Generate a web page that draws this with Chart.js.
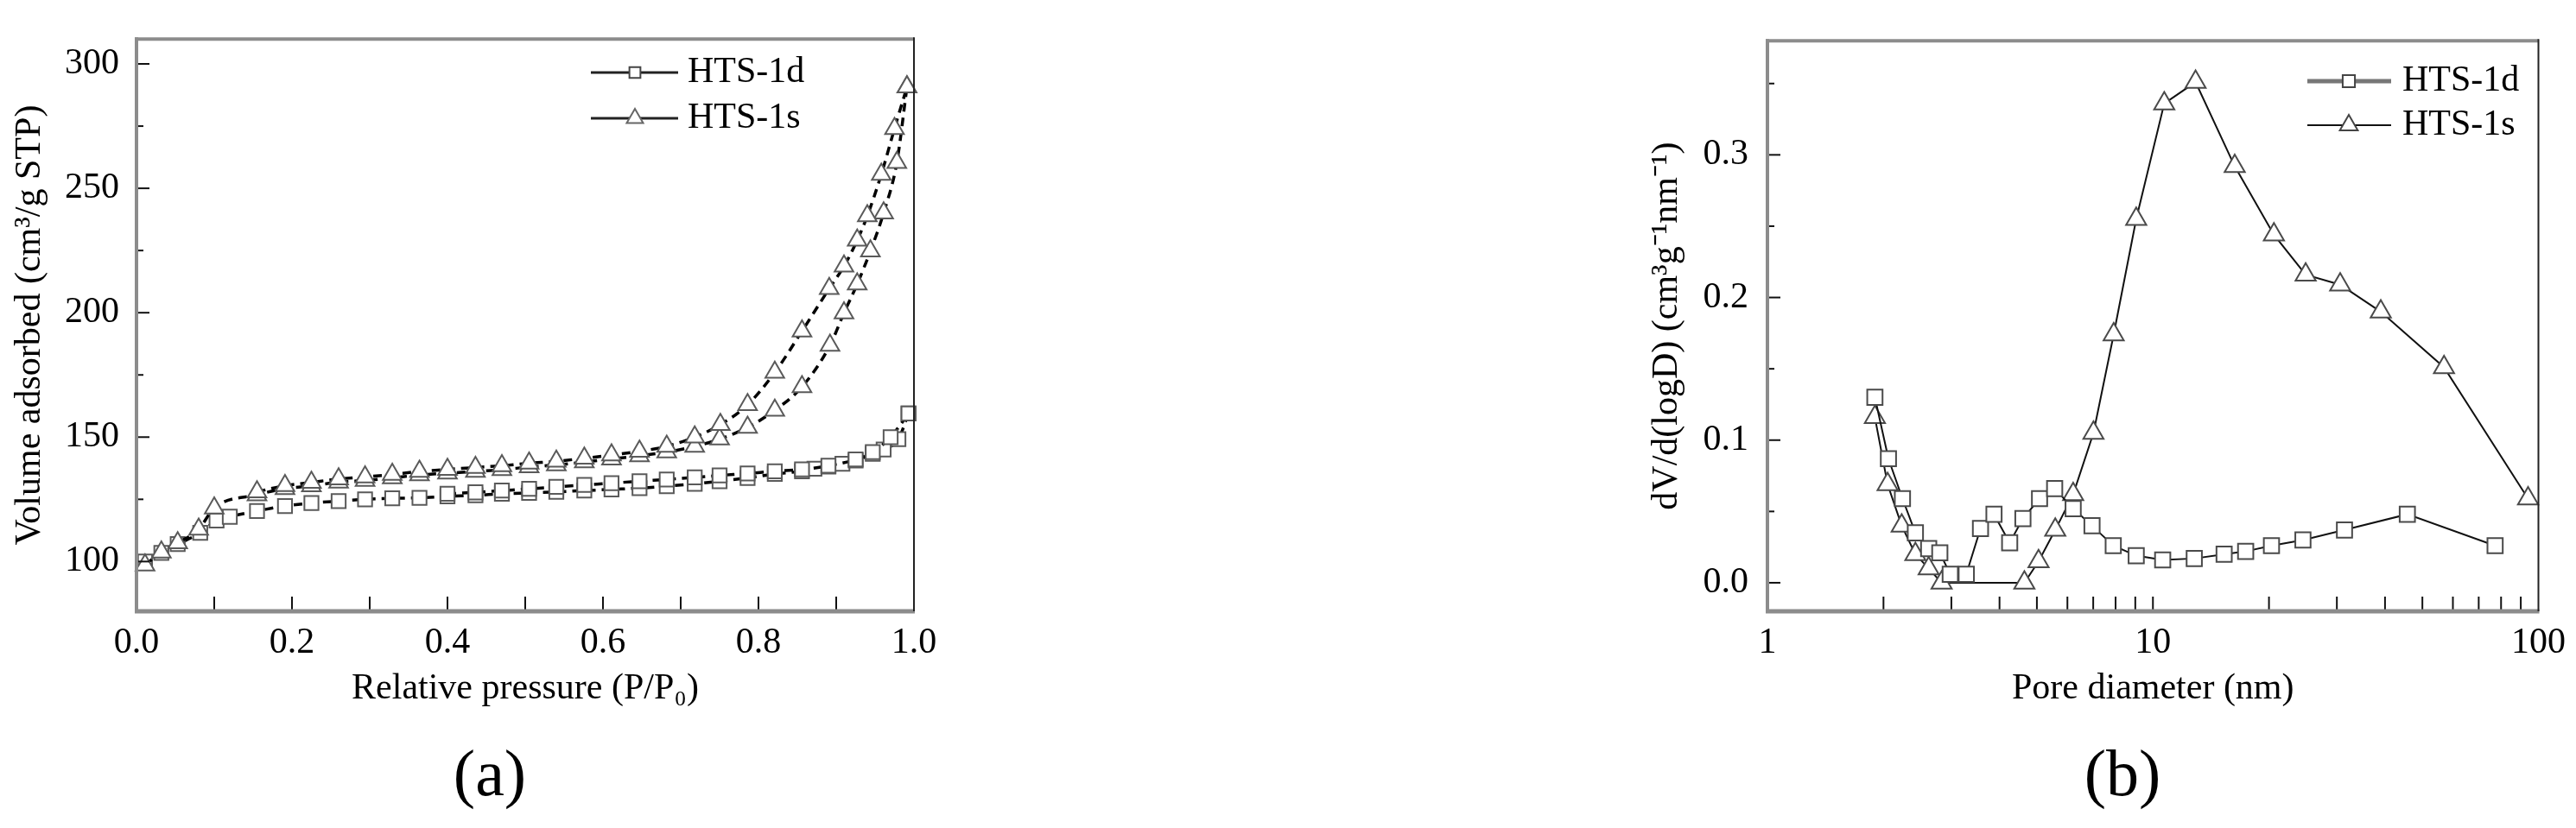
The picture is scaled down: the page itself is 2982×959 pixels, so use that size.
<!DOCTYPE html>
<html><head><meta charset="utf-8">
<script src="https://cdn.jsdelivr.net/npm/chart.js@4.4.1/dist/chart.umd.min.js"></script>
<style>
html,body{margin:0;padding:0;background:#fff;width:2982px;height:959px;overflow:hidden;}
.lab{position:absolute;font-family:'Liberation Serif','Times New Roman',serif;font-size:76px;color:#000;transform:translate(-50%,-50%);white-space:nowrap;line-height:1;}
</style></head><body>
<canvas id="ca" width="1100" height="959" style="position:absolute;left:0;top:0"></canvas>
<canvas id="cb" width="1182" height="959" style="position:absolute;left:1800px;top:0"></canvas>
<div class="lab" style="left:567px;top:895px">(a)</div>
<div class="lab" style="left:2457px;top:895px">(b)</div>
<script>
// ---------- (a) N2 isotherms ----------
const seriesNames = ['HTS-1d', 'HTS-1s'];
const d1AdsP = [0.011,0.032,0.053,0.082,0.103,0.12,0.155,0.191,0.225,0.26,0.294,0.329,0.364,0.40,0.436,0.47,0.505,0.54,0.576,0.611,0.647,0.682,0.718,0.75,0.786,0.821,0.856,0.872,0.89,0.908,0.925,0.947,0.961,0.98,0.993];
const d1AdsV = [100,103.5,107,111.5,116.5,118,120.3,122.3,123.5,124.3,125,125.4,125.6,126.2,126.6,127.2,127.6,128,128.5,129,129.5,130.3,131.2,132.3,133.6,135.2,136.3,137.3,138.2,139.3,140.6,143.3,145,149.2,159.5];
const d1DesP = [0.40,0.436,0.47,0.505,0.54,0.576,0.611,0.647,0.682,0.718,0.75,0.786,0.821,0.856,0.89,0.925,0.947,0.97,0.993];
const d1DesV = [127.2,127.8,128.5,129.2,130,130.8,131.5,132.3,133,133.8,134.6,135.4,136.3,137,138.5,141,144,150,159.5];
const s1AdsP = [0.011,0.032,0.053,0.08,0.1,0.155,0.191,0.225,0.26,0.294,0.329,0.364,0.40,0.436,0.47,0.505,0.54,0.576,0.611,0.647,0.682,0.718,0.75,0.786,0.821,0.856,0.892,0.91,0.927,0.944,0.961,0.978,0.991];
const s1AdsV = [98.6,103.8,107.5,113,121.5,126.8,129.3,130.4,131.9,132.6,133.6,134.8,135.5,136.2,136.9,138,138.8,140,141.2,142.5,144,146.3,149.2,153.9,160.8,170.2,186.9,199.9,211.5,224.8,240.1,260.4,290.7];
const s1DesP = [0.155,0.191,0.225,0.26,0.294,0.329,0.364,0.40,0.436,0.47,0.505,0.54,0.576,0.611,0.647,0.682,0.718,0.751,0.786,0.821,0.856,0.891,0.91,0.927,0.94,0.958,0.975,0.991];
const s1DesV = [128,130.5,131.8,133.2,134,135,136.2,137,137.8,138.5,139.5,140.3,141.5,142.8,144.3,146.3,150,155,163,176,192.6,209.7,218.7,229.1,238.9,255.6,274,290.7];
const aXMajor = [0,0.2,0.4,0.6,0.8,1.0];
const aXMinor = [0.1,0.3,0.5,0.7,0.9];
const aYMajor = [100,150,200,250,300];
const aYMinor = [125,175,225,275];
const aXTitle = 'Relative pressure (P/P\u2080)';
const aYTitle = 'Volume adsorbed (cm\u00B3/g STP)';

// ---------- (b) pore size distribution ----------
const d1PoreD = [1.90,2.06,2.24,2.42,2.62,2.80,2.98,3.28,3.57,3.87,4.25,4.60,5.08,5.56,6.21,6.95,7.89,9.05,10.6,12.8,15.3,17.4,20.3,24.5,31.4,45.7,77.2];
const d1PoreV = [0.130,0.087,0.059,0.035,0.024,0.021,0.006,0.006,0.038,0.048,0.028,0.045,0.059,0.066,0.052,0.040,0.026,0.019,0.016,0.017,0.020,0.022,0.026,0.030,0.037,0.048,0.026];
const s1PoreD = [1.90,2.05,2.23,2.42,2.62,2.83,4.64,5.05,5.58,6.21,7.01,7.91,9.05,10.7,12.9,16.3,20.6,24.9,30.6,39.0,56.9,94.0];
const s1PoreV = [0.116,0.069,0.040,0.020,0.010,0.0,0.0,0.015,0.037,0.062,0.105,0.174,0.255,0.336,0.351,0.292,0.244,0.216,0.209,0.190,0.151,0.059];
const bXMajor = [1,10,100];
const bXMinor = [2,3,4,5,6,7,8,9,20,30,40,50,60,70,80,90];
const bYMajor = [0.0,0.1,0.2,0.3];
const bYMinor = [0.05,0.15,0.25,0.35];
const bXTitle = 'Pore diameter (nm)';
const bYTitle = 'dV/d(logD) (cm\u00B3g\u207B\u00B9nm\u207B\u00B9)';

// ---------- helpers ----------
const serif = "'Liberation Serif','Times New Roman',serif";
Chart.defaults.font.family = serif;
Chart.defaults.color = '#000';
function pts(xs, ys){ return xs.map((x,i)=>({x:x, y:ys[i]})); }

function framePlugin(o){
  return {
    id:'frameTicks',
    afterDatasetsDraw(chart){
      const ctx = chart.ctx, a = chart.chartArea, xs = chart.scales.x, ys = chart.scales.y;
      ctx.save();
      ctx.lineCap = 'butt';
      ctx.strokeStyle = '#111'; ctx.lineWidth = 2;
      const seg = (x1,y1,x2,y2)=>{ctx.beginPath();ctx.moveTo(x1,y1);ctx.lineTo(x2,y2);ctx.stroke();};
      o.xMajor.forEach(v=>{const p=xs.getPixelForValue(v); if(p>a.left+2 && p<a.right-2) seg(p,a.bottom,p,a.bottom-o.xLen);});
      o.xMinor.forEach(v=>{const p=xs.getPixelForValue(v); seg(p,a.bottom,p,a.bottom-o.xMinLen);});
      o.yMajor.forEach(v=>{const p=ys.getPixelForValue(v); seg(a.left,p,a.left+o.yLen,p);});
      o.yMinor.forEach(v=>{const p=ys.getPixelForValue(v); if(p>a.top) seg(a.left,p,a.left+o.yMinLen,p);});
      // frame
      ctx.strokeStyle = '#8c8c8c';
      ctx.lineWidth = 4; seg(a.left-2,a.top,a.right,a.top);
      ctx.lineWidth = 4; seg(a.left,a.top-2,a.left,a.bottom+2);
      ctx.lineWidth = 5; seg(a.left-2,a.bottom,a.right+1,a.bottom);
      ctx.strokeStyle = '#222'; ctx.lineWidth = 2; seg(a.right,a.top-2,a.right,a.bottom);
      // legend
      o.legend.forEach(e=>{
        ctx.strokeStyle = e.lineColor; ctx.lineWidth = e.lineWidth; ctx.setLineDash([]);
        seg(e.x1,e.y,e.x2,e.y);
        ctx.fillStyle = '#fff'; ctx.strokeStyle = e.markColor; ctx.lineWidth = 2;
        Chart.helpers.drawPoint(ctx,{pointStyle:e.style, radius:e.r, rotation:0, borderWidth:2}, e.mx, e.y);
        ctx.fillStyle = '#000'; ctx.font = '42px ' + serif; ctx.textBaseline = 'middle'; ctx.textAlign = 'left';
        ctx.fillText(e.text, e.tx, e.y);
      });
      ctx.restore();
    }
  };
}

// ---------- chart (a) ----------
const lineA = {showLine:true, borderColor:'#000', borderWidth:3.5, borderDash:[10,7], cubicInterpolationMode:'monotone',
  pointBorderColor:'#5a5a5a', pointBackgroundColor:'#fff', pointBorderWidth:2, clip:false};
new Chart(document.getElementById('ca'), {
  type:'scatter',
  data:{datasets:[
    Object.assign({label:seriesNames[1]+' desorption', data:pts(s1DesP,s1DesV), pointStyle:'triangle', pointRadius:12.5}, lineA),
    Object.assign({label:seriesNames[1], data:pts(s1AdsP,s1AdsV), pointStyle:'triangle', pointRadius:12.5}, lineA),
    Object.assign({label:seriesNames[0]+' desorption', data:pts(d1DesP,d1DesV), pointStyle:'rect', pointRadius:11.5}, lineA),
    Object.assign({label:seriesNames[0], data:pts(d1AdsP,d1AdsV), pointStyle:'rect', pointRadius:11.5}, lineA)
  ]},
  options:{
    responsive:false, animation:false, devicePixelRatio:1,
    layout:{padding:{left:6, top:32, right:42, bottom:132}},
    plugins:{legend:{display:false}, tooltip:{enabled:false}},
    scales:{
      x:{type:'linear', min:0, max:1, grid:{display:false, drawTicks:false}, border:{display:false},
        afterBuildTicks:s=>{s.ticks = aXMajor.map(v=>({value:v}));},
        afterFit:s=>{s.height = 119;},
        ticks:{padding:12, font:{size:42}, autoSkip:false, maxRotation:0, callback:v=>Number(v).toFixed(1)},
        title:{display:true, text:aXTitle, font:{size:42}, padding:{top:0,bottom:4}}},
      y:{type:'linear', min:80, max:310, grid:{display:false, drawTicks:false}, border:{display:false},
        afterBuildTicks:s=>{s.ticks = aYMajor.map(v=>({value:v}));},
        afterFit:s=>{s.width = 152;},
        ticks:{padding:20, font:{size:42}, autoSkip:false, callback:v=>String(v)},
        title:{display:true, text:aYTitle, font:{size:42}, padding:{top:4,bottom:0}}}
    }
  },
  plugins:[framePlugin({xMajor:aXMajor, xMinor:aXMinor, yMajor:aYMajor, yMinor:aYMinor, xLen:17, xMinLen:17, yLen:15, yMinLen:8,
    legend:[
      {text:seriesNames[0], style:'rect', r:9, x1:684, x2:785, mx:735, tx:796, y:84, lineColor:'#222', lineWidth:3, markColor:'#444'},
      {text:seriesNames[1], style:'triangle', r:11, x1:684, x2:785, mx:735, tx:796, y:137, lineColor:'#222', lineWidth:3, markColor:'#666'}
    ]})]
});

// ---------- chart (b) ----------
const lineB = {showLine:true, borderColor:'#111', borderWidth:2, tension:0,
  pointBorderColor:'#4a4a4a', pointBackgroundColor:'#fff', pointBorderWidth:2, clip:false};
new Chart(document.getElementById('cb'), {
  type:'scatter',
  data:{datasets:[
    Object.assign({label:seriesNames[0], data:pts(d1PoreD,d1PoreV), pointStyle:'rect', pointRadius:12.5}, lineB),
    Object.assign({label:seriesNames[1], data:pts(s1PoreD,s1PoreV), pointStyle:'triangle', pointRadius:13.5}, lineB)
  ]},
  options:{
    responsive:false, animation:false, devicePixelRatio:1,
    layout:{padding:{left:101, top:32, right:40, bottom:132}},
    plugins:{legend:{display:false}, tooltip:{enabled:false}},
    scales:{
      x:{type:'logarithmic', min:1, max:100, grid:{display:false, drawTicks:false}, border:{display:false},
        afterBuildTicks:s=>{s.ticks = bXMajor.map(v=>({value:v}));},
        afterFit:s=>{s.height = 119;},
        ticks:{padding:12, font:{size:42}, autoSkip:false, maxRotation:0, callback:v=>String(v)},
        title:{display:true, text:bXTitle, font:{size:42}, padding:{top:0,bottom:4}}},
      y:{type:'linear', min:-0.02, max:0.38, grid:{display:false, drawTicks:false}, border:{display:false},
        afterBuildTicks:s=>{s.ticks = bYMajor.map(v=>({value:v}));},
        afterFit:s=>{s.width = 145;},
        ticks:{padding:22, font:{size:42}, autoSkip:false, callback:v=>Number(v).toFixed(1)},
        title:{display:true, text:bYTitle, font:{size:42}, padding:{top:4,bottom:0}}}
    }
  },
  plugins:[framePlugin({xMajor:bXMajor, xMinor:bXMinor, yMajor:bYMajor, yMinor:bYMinor, xLen:17, xMinLen:17, yLen:15, yMinLen:8,
    legend:[
      {text:seriesNames[0], style:'rect', r:10, x1:871, x2:968, mx:919, tx:981, y:94, lineColor:'#777', lineWidth:5, markColor:'#444'},
      {text:seriesNames[1], style:'triangle', r:12, x1:871, x2:968, mx:919, tx:981, y:145, lineColor:'#111', lineWidth:2, markColor:'#444'}
    ]})]
});
</script>
</body></html>
